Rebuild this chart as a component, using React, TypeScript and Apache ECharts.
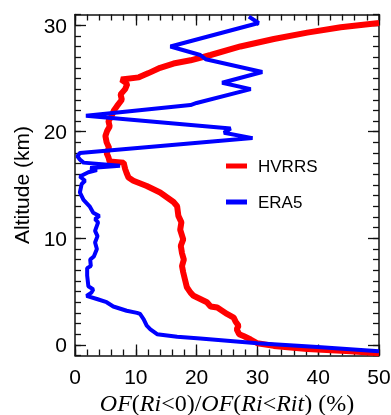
import React, { useEffect, useRef } from 'react';
import * as echarts from 'echarts';

const seriesNames = ['HVRRS', 'ERA5'];
const xMajorTicks = [0, 10, 20, 30, 40, 50];
const yMajorTicks = [0, 10, 20, 30];

// [OF ratio (%), altitude (km)]
const hvrrs: [number, number][] = [
  [50, -0.8], [45.4, -0.6], [38.2, -0.4], [32.7, -0.1], [30, 0.15], [28.9, 0.5], [27.8, 0.8],
  [27, 1.0], [26.6, 1.45], [26.9, 1.8], [26.4, 2.2], [26.1, 2.55], [25, 2.9], [24.2, 3.2],
  [23.4, 3.5], [22.3, 3.6], [21.7, 4.0], [20.6, 4.3], [19.5, 4.6], [19.0, 4.9], [18.4, 5.4],
  [18.1, 6.1], [17.8, 6.8], [17.6, 7.4], [17.9, 8.0], [17.6, 8.6], [17.4, 9.3], [17.8, 9.9],
  [17.3, 10.8], [17.5, 11.5], [17.0, 12.1], [16.8, 13.0], [16.2, 13.4], [14.0, 14.3],
  [11.8, 14.9], [9.6, 15.4], [8.8, 15.7], [8.5, 16.1], [8.25, 16.5], [8.0, 17.1], [5.7, 17.2],
  [5.5, 17.6], [5.2, 18.0], [5.6, 18.5], [5.2, 19.0], [5.0, 19.6], [5.3, 20.1], [5.7, 20.5],
  [5.5, 21.0], [6.05, 21.5], [6.4, 22.0], [6.9, 22.4], [7.7, 23.0], [7.5, 23.5], [8.25, 24.0],
  [8.6, 24.5], [7.6, 24.9], [10.5, 25.1], [12.1, 25.5], [14.0, 26.0], [16.2, 26.4],
  [19.0, 26.7], [22.3, 27.2], [27.2, 28.0], [32.7, 28.7], [38.2, 29.3], [43.7, 29.8], [50, 30.2],
];

const era5: [number, number][] = [
  [50, -0.6], [39.9, -0.2], [30, 0.15], [20.6, 0.6], [16.8, 0.75], [13.5, 1.0], [12.4, 1.45],
  [11.8, 1.8], [11.3, 2.4], [10.7, 2.9], [10.2, 3.0], [8.5, 3.2], [6.3, 3.6], [5.2, 4.0],
  [3.6, 4.3], [1.9, 4.6], [2.7, 4.9], [3.0, 5.2], [2.2, 5.5], [2.0, 6.5], [2.0, 7.2],
  [2.6, 7.4], [2.5, 8.0], [3.1, 8.3], [3.6, 9.0], [3.3, 9.6], [3.7, 10.2], [3.3, 10.7],
  [3.8, 11.5], [3.3, 11.8], [4.0, 12.1], [3.0, 12.4], [2.4, 13.0], [1.4, 13.6], [0.8, 14.3],
  [1.1, 15.1], [1.65, 15.4], [0.8, 15.8], [2.2, 16.2], [3.6, 16.4], [2.5, 16.6], [7.4, 16.8],
  [1.4, 17.1], [0.8, 17.4], [0.4, 17.7], [0.8, 18.0], [29.2, 19.4], [24.5, 19.9], [25.6, 20.3],
  [1.8, 21.5], [19.0, 22.5], [20.0, 22.7], [28.9, 24.0], [24.2, 24.6], [30.8, 25.6],
  [21.5, 26.8], [20.6, 27.2], [15.7, 28.0], [30.2, 30.2], [28.6, 30.8],
];

const AX = '#111';
const SANS = '"Liberation Sans", Arial, Helvetica, sans-serif';
const SERIF = '"Liberation Serif", "Times New Roman", serif';
const MAJOR = 11;
const MINOR = 6;

export default function App() {
  const ref = useRef<HTMLDivElement>(null);
  useEffect(() => {
    const chart = echarts.init(ref.current!, null, { renderer: 'svg' });
    const line = { show: true, onZero: false, lineStyle: { color: AX, width: 1.5 } };
    const noLine = { show: false, onZero: false };
    const tickStyle = { color: AX, width: 1.3 };
    const xBase = { type: 'value', min: 0, max: 50, splitLine: { show: false } };
    const yBase = { type: 'value', min: -1, max: 31, splitLine: { show: false } };
    chart.setOption({
      animation: false,
      grid: { left: 75, right: 12, top: 14.5, bottom: 59.5, containLabel: false, outerBoundsMode: 'none' },
      legend: {
        orient: 'vertical',
        left: 221,
        top: 151,
        icon: 'rect',
        itemWidth: 21,
        itemHeight: 5,
        itemGap: 16,
        data: seriesNames,
        textStyle: { fontFamily: SANS, fontSize: 17, color: '#000', lineHeight: 20, padding: [0, 0, 0, 6] },
      },
      xAxis: [
        {
          ...xBase, position: 'bottom', interval: 10,
          axisLine: line,
          axisTick: { inside: true, length: MAJOR, lineStyle: tickStyle, customValues: xMajorTicks },
          axisLabel: { fontFamily: SANS, fontSize: 21, color: '#000', margin: 10, customValues: xMajorTicks },
          name: '{i|OF}{n|(}{i|Ri}{n|<0)/}{i|OF}{n|(}{i|Ri}{n|<}{i|Rit}{n|) (%)}',
          nameLocation: 'middle',
          nameGap: 35,
          nameTextStyle: {
            fontSize: 24, fontFamily: SERIF, color: '#000',
            rich: {
              i: { fontStyle: 'italic', fontFamily: SERIF, fontSize: 24, color: '#000' },
              n: { fontFamily: SERIF, fontSize: 24, color: '#000' },
            },
          },
        },
        {
          ...xBase, position: 'bottom', interval: 2,
          axisLine: noLine,
          axisTick: { inside: true, length: MINOR, lineStyle: tickStyle },
          axisLabel: { show: false },
        },
        {
          ...xBase, position: 'top', interval: 10,
          axisLine: line,
          axisTick: { inside: true, length: MAJOR, lineStyle: tickStyle },
          axisLabel: { show: false },
        },
        {
          ...xBase, position: 'top', interval: 2,
          axisLine: noLine,
          axisTick: { inside: true, length: MINOR, lineStyle: tickStyle },
          axisLabel: { show: false },
        },
      ],
      yAxis: [
        {
          ...yBase, position: 'left', interval: 1,
          axisLine: line,
          axisTick: { inside: true, length: MAJOR, lineStyle: tickStyle, customValues: yMajorTicks },
          axisLabel: { fontFamily: SANS, fontSize: 21, color: '#000', margin: 8, customValues: yMajorTicks },
          name: 'Altitude (km)',
          nameLocation: 'middle',
          nameGap: 43,
          nameTextStyle: { fontFamily: SANS, fontSize: 21, color: '#000' },
        },
        {
          ...yBase, position: 'left', interval: 1,
          axisLine: noLine,
          axisTick: { inside: true, length: MINOR, lineStyle: tickStyle },
          axisLabel: { show: false },
        },
        {
          ...yBase, position: 'right', interval: 1,
          axisLine: line,
          axisTick: { inside: true, length: MAJOR, lineStyle: tickStyle, customValues: yMajorTicks },
          axisLabel: { show: false },
        },
        {
          ...yBase, position: 'right', interval: 1,
          axisLine: noLine,
          axisTick: { inside: true, length: MINOR, lineStyle: tickStyle },
          axisLabel: { show: false },
        },
      ],
      series: [
        {
          name: seriesNames[0], type: 'line', data: hvrrs, xAxisIndex: 0, yAxisIndex: 0,
          showSymbol: false, symbol: 'none', clip: true, color: '#ff0000',
          lineStyle: { color: '#ff0000', width: 6 },
        },
        {
          name: seriesNames[1], type: 'line', data: era5, xAxisIndex: 0, yAxisIndex: 0,
          showSymbol: false, symbol: 'none', clip: true, color: '#0000ff',
          lineStyle: { color: '#0000ff', width: 4 },
        },
      ],
    });
    return () => chart.dispose();
  }, []);
  return <div ref={ref} style={{ position: 'fixed', left: 0, top: 0, width: 391, height: 415 }} />;
}
